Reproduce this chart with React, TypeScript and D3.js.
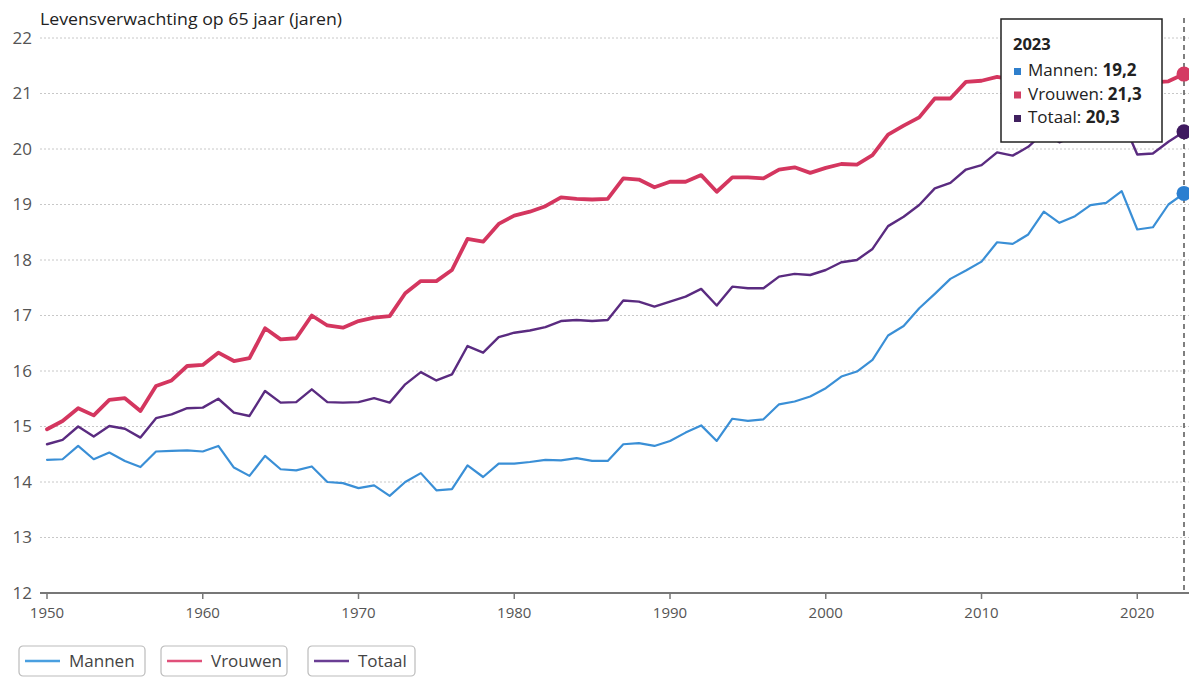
import React from "react";
import * as d3 from "d3";

const years: number[] = d3.range(1950, 2024);

const mannen: number[] = [
  14.40, 14.41, 14.65, 14.41, 14.53, 14.38, 14.27, 14.55, 14.56, 14.57,
  14.55, 14.65, 14.26, 14.11, 14.47, 14.23, 14.21, 14.28, 14.00, 13.98,
  13.89, 13.94, 13.75, 14.00, 14.16, 13.85, 13.87, 14.30, 14.09, 14.33,
  14.33, 14.36, 14.40, 14.39, 14.43, 14.38, 14.38, 14.68, 14.70, 14.65,
  14.74, 14.89, 15.02, 14.74, 15.14, 15.10, 15.13, 15.40, 15.45, 15.54,
  15.69, 15.90, 15.99, 16.20, 16.64, 16.81, 17.13, 17.39, 17.66, 17.81,
  17.97, 18.32, 18.29, 18.46, 18.87, 18.67, 18.79, 18.99, 19.03, 19.24,
  18.55, 18.59, 19.00, 19.20,
];

const vrouwen: number[] = [
  14.95, 15.10, 15.33, 15.20, 15.48, 15.51, 15.28, 15.73, 15.83, 16.09,
  16.11, 16.33, 16.18, 16.23, 16.77, 16.57, 16.59, 17.00, 16.82, 16.78,
  16.90, 16.96, 16.99, 17.40, 17.62, 17.62, 17.82, 18.38, 18.33, 18.65,
  18.80, 18.87, 18.97, 19.13, 19.10, 19.09, 19.10, 19.47, 19.45, 19.31,
  19.41, 19.41, 19.53, 19.23, 19.49, 19.49, 19.47, 19.63, 19.67, 19.57,
  19.66, 19.73, 19.72, 19.89, 20.26, 20.42, 20.57, 20.91, 20.91, 21.21,
  21.23, 21.30, 21.25, 21.35, 21.60, 21.45, 21.55, 21.60, 21.60, 21.80,
  21.20, 21.20, 21.22, 21.35,
];

const totaal: number[] = [
  14.68, 14.76, 15.00, 14.82, 15.01, 14.96, 14.80, 15.15, 15.22, 15.33,
  15.34, 15.50, 15.25, 15.19, 15.64, 15.43, 15.44, 15.67, 15.44, 15.43,
  15.44, 15.51, 15.43, 15.76, 15.98, 15.83, 15.94, 16.45, 16.33, 16.61,
  16.69, 16.73, 16.79, 16.90, 16.92, 16.90, 16.92, 17.27, 17.25, 17.16,
  17.25, 17.34, 17.48, 17.18, 17.52, 17.49, 17.49, 17.70, 17.75, 17.73,
  17.82, 17.96, 18.00, 18.20, 18.61, 18.78, 18.99, 19.29, 19.39, 19.63,
  19.71, 19.94, 19.88, 20.04, 20.30, 20.12, 20.25, 20.35, 20.40, 20.55,
  19.90, 19.92, 20.13, 20.31,
];

const yTicks: number[] = d3.range(12, 23);
const xTicks: number[] = [1950, 1960, 1970, 1980, 1990, 2000, 2010, 2020];
const seriesNames: string[] = ["Mannen", "Vrouwen", "Totaal"];
const tooltipYear = 2023;
const tooltipValues: string[] = ["19,2", "21,3", "20,3"];
const titleText = "Levensverwachting op 65 jaar (jaren)";

const FONT = "'Open Sans', 'Noto Sans', sans-serif";

export default function App() {
  const W = 1189;
  const H = 679;
  const x = d3.scaleLinear().domain([1950, 2023]).range([47, 1184]);
  const y = d3.scaleLinear().domain([12, 22]).range([593, 38]);

  const series = [
    { name: seriesNames[0], values: mannen, color: "#3a8fd6", width: 2.2, dot: "#2b7fd0", legend: "#4a9fe0", sq: "#2f7fcc" },
    { name: seriesNames[1], values: vrouwen, color: "#d4365f", width: 3.8, dot: "#d43a62", legend: "#e0507a", sq: "#d23d64" },
    { name: seriesNames[2], values: totaal, color: "#5a2b80", width: 2.4, dot: "#3f1a60", legend: "#6a3e94", sq: "#40205f" },
  ];

  const line = d3
    .line<[number, number]>()
    .x((d) => x(d[0]))
    .y((d) => y(d[1]));

  const legendItems = [
    { x: 19, w: 126 },
    { x: 161, w: 126 },
    { x: 308, w: 107 },
  ];

  const ttX = 1001;
  const ttY = 19;
  const ttW = 161;
  const ttH = 123;

  return (
    <svg width={W} height={H} style={{ position: "absolute", left: 0, top: 0 }} fontFamily={FONT}>
      <rect x={0} y={0} width={W} height={H} fill="#ffffff" />
      <text x={40} y={25} fontSize={15.5} fill="#222" textLength={302} lengthAdjust="spacingAndGlyphs">{titleText}</text>

      {yTicks.map((t) => (
        <g key={t}>
          {t > 12 && (
            <line x1={40} x2={W} y1={y(t)} y2={y(t)} stroke="#c8c8c8" strokeWidth={1} strokeDasharray="2,2" />
          )}
          <text x={32} y={y(t)} dy="0.35em" textAnchor="end" fontSize={17} fill="#555">{t}</text>
        </g>
      ))}

      <line x1={40} x2={W} y1={593} y2={593} stroke="#777" strokeWidth={2} />
      {xTicks.map((t) => (
        <g key={t}>
          <line x1={x(t)} x2={x(t)} y1={593} y2={599} stroke="#777" strokeWidth={1.5} />
          <text x={x(t)} y={618} textAnchor="middle" fontSize={15} fill="#555">{t}</text>
        </g>
      ))}

      <line x1={x(tooltipYear)} x2={x(tooltipYear)} y1={18} y2={593} stroke="#555" strokeWidth={1.5} strokeDasharray="5,4" />

      {series.map((s) => (
        <path
          key={s.name}
          d={line(years.map((yr, i) => [yr, s.values[i]] as [number, number])) || ""}
          fill="none"
          stroke={s.color}
          strokeWidth={s.width}
          strokeLinejoin="round"
          strokeLinecap="round"
        />
      ))}

      {series.map((s) => (
        <circle key={s.name} cx={x(tooltipYear)} cy={y(s.values[s.values.length - 1])} r={7.5} fill={s.dot} />
      ))}

      <g>
        <rect x={ttX} y={ttY} width={ttW} height={ttH} fill="#fff" stroke="#222" strokeWidth={1.5} />
        <text x={ttX + 12} y={ttY + 31} fontSize={16.5} fontWeight="bold" fill="#222">{tooltipYear}</text>
        {series.map((s, i) => (
          <g key={s.name}>
            <rect x={ttX + 13} y={ttY + 49 + i * 23.5} width={7} height={7} fill={s.sq} />
            <text x={ttX + 27} y={ttY + 57 + i * 23.5} fontSize={17} fill="#222">
              {s.name}: <tspan fontWeight="bold">{tooltipValues[i]}</tspan>
            </text>
          </g>
        ))}
      </g>

      {series.map((s, i) => (
        <g key={s.name} transform={`translate(${legendItems[i].x},646)`}>
          <rect x={0} y={0} width={legendItems[i].w} height={30} rx={4} fill="#fff" stroke="#bbb" strokeWidth={1.2} />
          <line x1={6} x2={41} y1={15} y2={15} stroke={s.legend} strokeWidth={2.5} />
          <text x={50} y={15} dy="0.35em" fontSize={17} fill="#444">{s.name}</text>
        </g>
      ))}
    </svg>
  );
}
